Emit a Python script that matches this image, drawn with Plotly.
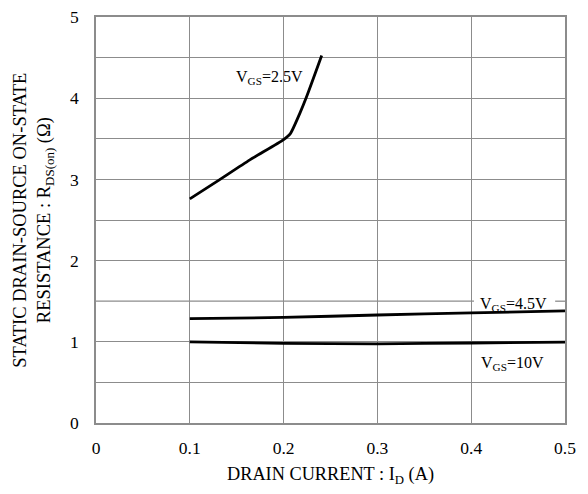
import plotly.graph_objects as go

# Data
id_25 = [0.100, 0.129, 0.164, 0.200, 0.207, 0.2175, 0.2246, 0.2406]
r_25 = [2.76, 2.975, 3.24, 3.49, 3.56, 3.82, 4.02, 4.525]

id_45 = [0.10, 0.20, 0.30, 0.40, 0.50]
r_45 = [1.285, 1.30, 1.33, 1.355, 1.38]

id_10 = [0.10, 0.20, 0.30, 0.40, 0.50]
r_10 = [1.00, 0.98, 0.975, 0.985, 0.995]

x_ticks = [0, 0.1, 0.2, 0.3, 0.4, 0.5]
x_tick_labels = ["0", "0.1", "0.2", "0.3", "0.4", "0.5"]
y_ticks = [0, 1, 2, 3, 4, 5]
y_tick_labels = ["0", "1", "2", "3", "4", "5"]
y_minor_grid = [0.5, 2.5, 3.5, 4.5]   # 1.5 is drawn in two pieces around the label

label_text = ["V<sub>GS</sub>=2.5V", "V<sub>GS</sub>=4.5V", "V<sub>GS</sub>=10V"]
label_x = [0.185, 0.4456, 0.444]
label_y = [4.25, 1.46, 0.73]

FONT = "Liberation Serif"
GRID = "#8c8c8c"

fig = go.Figure()
for xs, ys in [(id_25, r_25), (id_45, r_45), (id_10, r_10)]:
    fig.add_trace(go.Scatter(x=xs, y=ys, mode="lines",
                             line=dict(color="black", width=2.8, shape="spline", smoothing=0.6),
                             showlegend=False, hoverinfo="skip"))

fig.update_layout(
    template="none",
    width=580, height=486,
    margin=dict(l=88, r=23, t=9, b=71),
    paper_bgcolor="white", plot_bgcolor="white",
    font=dict(family=FONT, color="black", size=17),
    xaxis=dict(range=[0, 0.5], tickvals=x_ticks, ticktext=x_tick_labels, automargin=False,
               ticklabeloverflow="allow",
               showgrid=True, gridcolor=GRID, gridwidth=1.3,
               showline=True, linecolor=GRID, linewidth=1.6, mirror=True,
               ticks="", zeroline=False, tickfont=dict(size=17.5, family=FONT, color="black"),
               ticklabelstandoff=8),
    yaxis=dict(range=[0, 5], tickvals=y_ticks, ticktext=y_tick_labels, automargin=False,
               ticklabeloverflow="allow",
               showgrid=True, gridcolor=GRID, gridwidth=1.3,
               minor=dict(tickvals=y_minor_grid, showgrid=True, gridcolor=GRID, gridwidth=1.3),
               showline=True, linecolor=GRID, linewidth=1.6, mirror=True,
               ticks="", zeroline=False, tickfont=dict(size=17.5, family=FONT, color="black"),
               ticklabelstandoff=12),
)

# 1.5 gridline, interrupted behind the VGS=4.5V label
for gx0, gx1 in [(0.0, 0.403), (0.4895, 0.5)]:
    fig.add_shape(type="line", xref="x", yref="y", x0=gx0, x1=gx1, y0=1.5, y1=1.5,
                  line=dict(color=GRID, width=1.3), layer="below")

for t, x, y in zip(label_text, label_x, label_y):
    fig.add_annotation(x=x, y=y, xref="x", yref="y", text=t, showarrow=False,
                       xanchor="center", yanchor="middle",
                       font=dict(size=16, family=FONT, color="black"))

fig.add_annotation(x=0.5, y=-0.1305, xref="paper", yref="paper",
                   xanchor="center", yanchor="middle",
                   text="DRAIN CURRENT : I<sub>D</sub> (A)", showarrow=False,
                   font=dict(size=18.3, family=FONT, color="black"))
fig.add_annotation(x=-0.135, y=0.5, xref="paper", yref="paper",
                   xanchor="center", yanchor="middle",
                   text="STATIC DRAIN-SOURCE ON-STATE<br>RESISTANCE : R<sub>DS(on)</sub> (Ω)",
                   textangle=-90, showarrow=False,
                   font=dict(size=18.5, family=FONT, color="black"))

fig.write_html("out.html")
